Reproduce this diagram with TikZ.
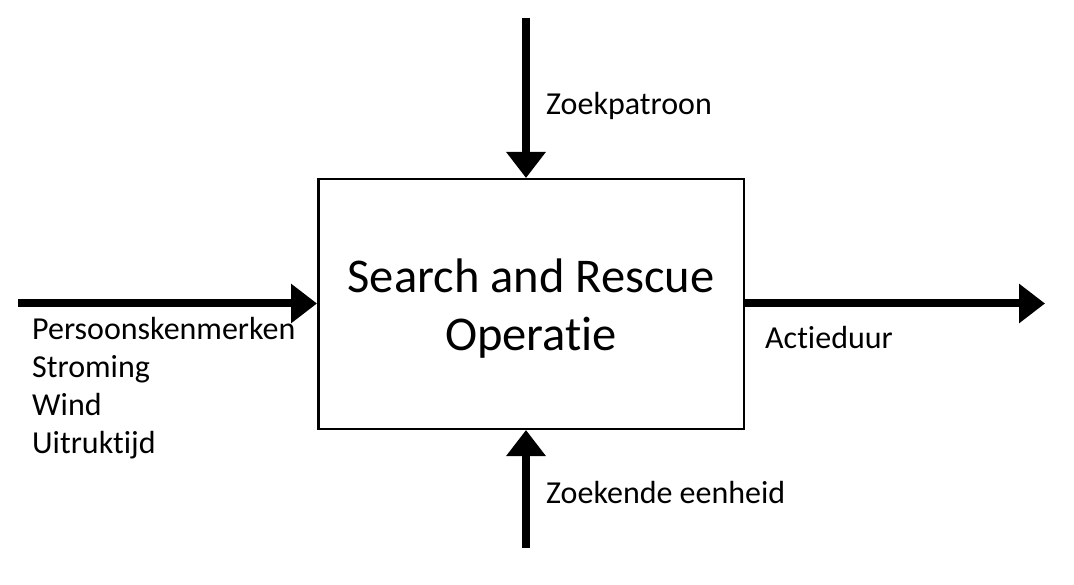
\documentclass[tikz,border=0pt]{standalone}
\usepackage{fontspec}
\setmainfont[Ligatures=NoCommon]{Carlito}
\usetikzlibrary{arrows.meta}

\begin{document}
\begin{tikzpicture}[x=1pt, y=-1pt, every node/.style={font=\fontsize{32}{38}\selectfont}]
  \tikzstyle{process} = [rectangle, minimum width=425.5pt, minimum height=249.5pt, draw=black, line width=2.5pt]
  \tikzstyle{boxtext} = [align=center, inner sep=0pt, font=\fontsize{48.5}{58}\selectfont]
  \tikzstyle{arrow} = [line width=8pt, -{Triangle[length=26pt, width=38pt]}]
  \tikzstyle{flowtext} = [inner sep=0pt, align=left]

  \useasboundingbox (0,0) rectangle (1074,585);

  \node (sar) [process] at (531,304) {};
  \node (sartext) [boxtext] at (531,309) {Search and Rescue\\Operatie};

  \coordinate (patroon) at (526,18);
  \coordinate (eenheid) at (526,548);
  \coordinate (invoer) at (18,303.5);
  \coordinate (uitvoer) at (1045,303.5);

  \draw [arrow] (patroon) -- (patroon |- sar.north);
  \draw [arrow] (eenheid) -- (eenheid |- sar.south);
  \draw [arrow] (invoer) -- (invoer -| sar.west);
  \draw [arrow] (uitvoer -| sar.east) -- (uitvoer);

  \node (zoek) [flowtext, anchor=west] at (546,106) {Zoekpatroon};
  \node (eenh) [flowtext, anchor=west] at (546,492) {Zoekende eenheid};
  \node (duur) [flowtext, anchor=west] at (765,338) {Actieduur};
  \node (kenm) [flowtext, anchor=west] at (32,388) {Persoonskenmerken\\Stroming\\Wind\\Uitruktijd};
\end{tikzpicture}
\end{document}
